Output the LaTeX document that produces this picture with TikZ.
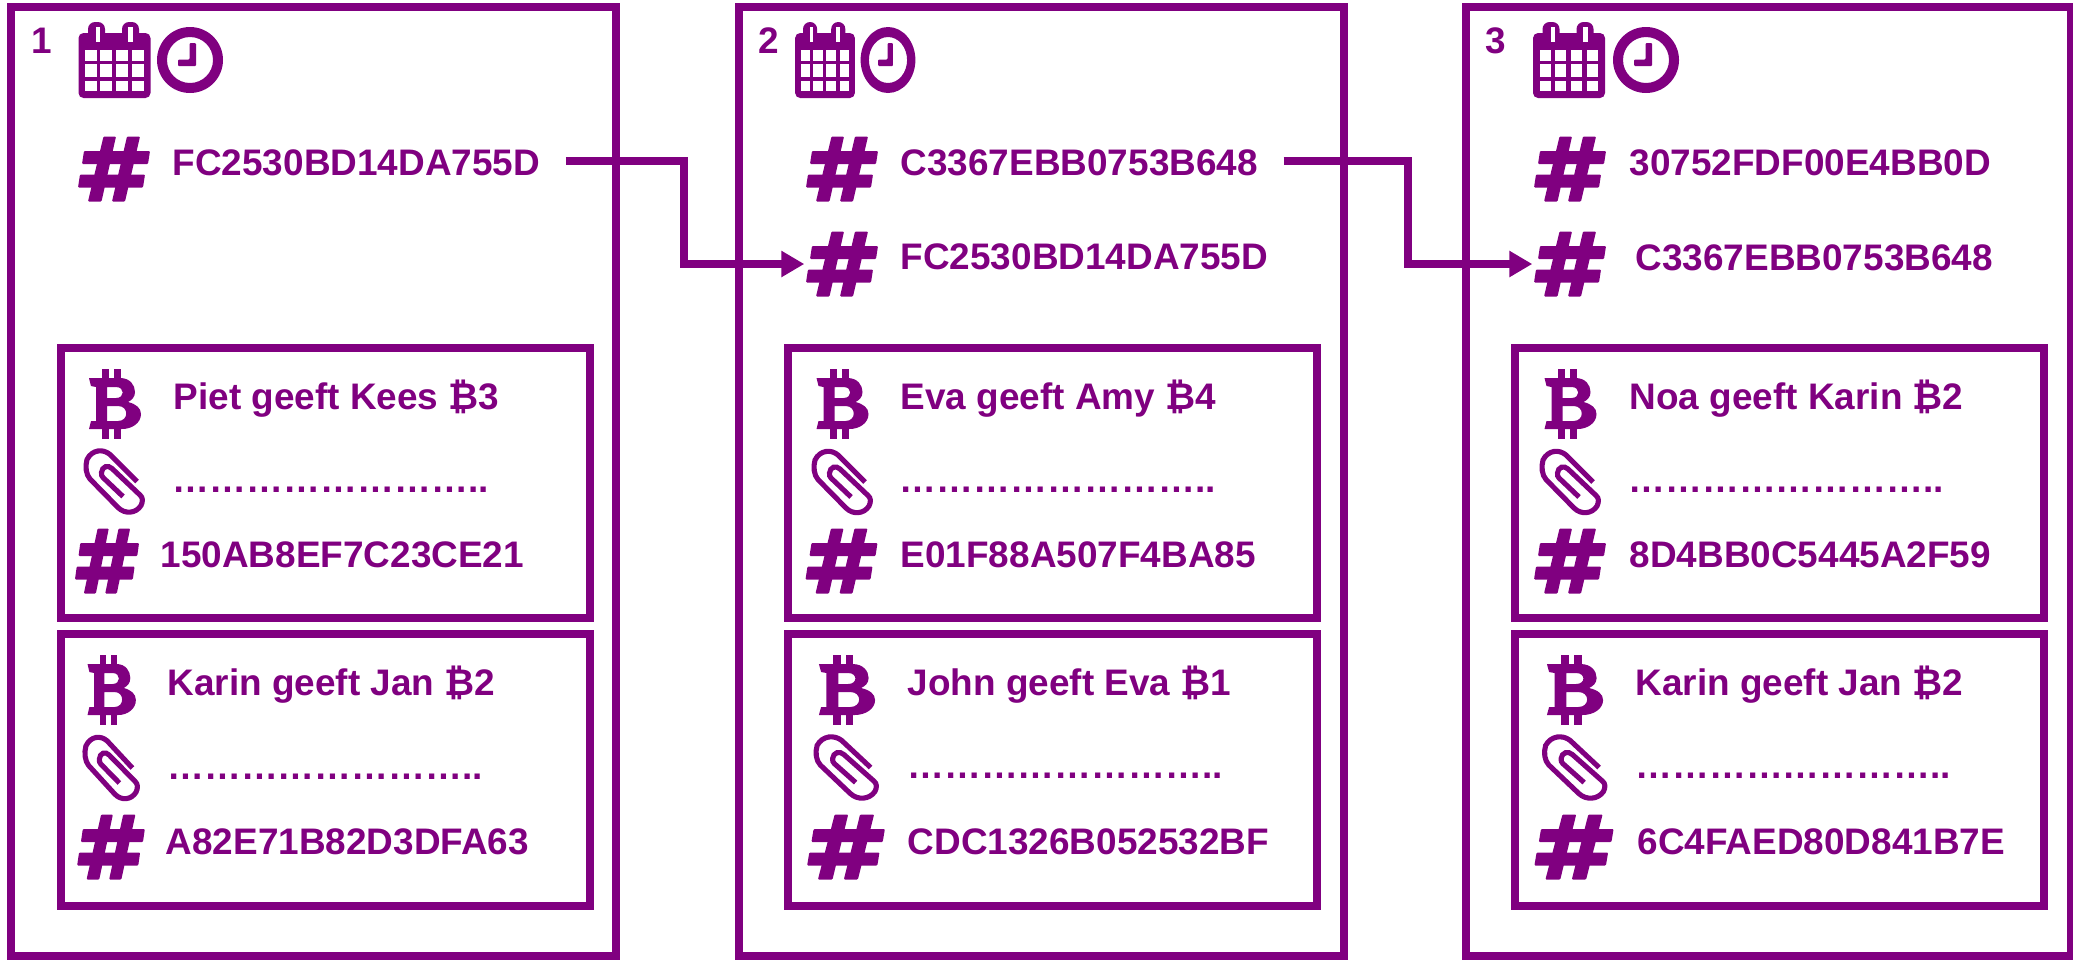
\documentclass[tikz,border=0pt]{standalone}
\usepackage{fontspec}
\setmainfont{Liberation Sans}
\usetikzlibrary{arrows.meta}
\definecolor{blockpurple}{HTML}{800080}
\tikzset{
    blockline/.style={draw=blockpurple, line width=2.35pt},
    chainline/.style={draw=blockpurple, line width=2.1pt, -{Triangle[length=.23cm,width=.25cm]}, shorten >=.01cm},
    txtlabel/.style={anchor=base west, inner sep=0pt, text=blockpurple, font=\fontsize{10.5}{12}\selectfont\bfseries},
    iconspot/.style={inner sep=0pt, minimum width=.72cm, minimum height=.65cm},
    hashicon/.pic={
        \node[iconspot] (-box) at (0,0) {};
        \fill[blockpurple, rounded corners=.01cm] (-30,-18) -- (36,-18) -- (34,-5) -- (-32,-5) -- cycle;
        \fill[blockpurple, rounded corners=.01cm] (-34,5.5) -- (31,5.5) -- (29,18.5) -- (-36,18.5) -- cycle;
        \fill[blockpurple, rounded corners=.01cm] (-10.5,-32.5) -- (2,-32.5) -- (-12.5,32.5) -- (-26,32.5) -- cycle;
        \fill[blockpurple, rounded corners=.01cm] (13,-32.5) -- (26,-32.5) -- (11,32.5) -- (-2,32.5) -- cycle;
    },
    calicon/.pic={
        \fill[blockpurple, rounded corners=.05cm] (-36,-27) rectangle (36,38);
        \fill[blockpurple, rounded corners=.07cm] (-26.5,-38) rectangle (-9.5,-20);
        \fill[blockpurple, rounded corners=.07cm] (7.5,-38) rectangle (24.5,-20);
        \fill[white] (-18.5,-33) rectangle (-14.5,-18);
        \fill[white] (13.5,-33) rectangle (18.5,-18);
        \foreach \cx in {-29.5,-14.5,1.5,17.5}
        {
            \fill[white] (\cx,-10) rectangle ++(11.5,11);
            \fill[white] (\cx,4) rectangle ++(11.5,13);
            \fill[white] (\cx,21) rectangle ++(11.5,10);
        }
    },
    clockicon/.pic={
        \fill[blockpurple, even odd rule] (0,0) circle [radius=33] (0,0) circle [radius=23];
        \fill[blockpurple, rounded corners=.01cm] (-0.5,-17) -- (6,-17) -- (6,6) -- (-12,6) -- (-12,-0.5) -- (-0.5,-0.5) -- cycle;
    },
    btcicon/.pic={
        \fill[blockpurple] (-13,-35) rectangle (-6,-25);
        \fill[blockpurple] (-1,-35) rectangle (6,-25);
        \fill[blockpurple] (-13,24) rectangle (-6,35);
        \fill[blockpurple] (-1,24) rectangle (6,35);
        \fill[blockpurple, even odd rule] (-26,-26) -- (5,-26)
            .. controls (15,-26) and (20,-19) .. (20,-12)
            .. controls (20,-7) and (17,-4) .. (13,-2)
            .. controls (21,0) and (26,4) .. (26,10)
            .. controls (26,19) and (17,25) .. (7,25)
            -- (-26,25) -- (-24,17) -- (-19,17) -- (-19,-17) -- (-24,-18) -- cycle
            (-8,-17) -- (1,-17) .. controls (10,-17) and (10,-6) .. (1,-6) -- (-8,-6) -- cycle
            (-8,2) -- (3,2) .. controls (14,2) and (14,17) .. (3,17) -- (-8,17) -- cycle;
    },
    clipicon/.pic={
        \draw[blockpurple, line width=1.45pt] (23,0) -- (-4,-27)
            .. controls (-11,-33) and (-22,-32) .. (-27,-22)
            .. controls (-29,-15) and (-28,-7) .. (-24,-2.5)
            -- (4,26)
            .. controls (11,33) and (22,32) .. (27,24)
            .. controls (29,20) and (29,16) .. (26,13.5)
            -- (-2,-13)
            .. controls (-6,-17) and (-12,-15) .. (-12.5,-9)
            .. controls (-13,-7) and (-12,-5) .. (-11,-4)
            -- (9,15);
    }
}
\begin{document}
\begin{tikzpicture}[x=0.01cm, y=-0.01cm]
\useasboundingbox (0,0) rectangle (2073,960);

% Outer blocks
\foreach \x in {11,739,1466}
{
    \draw[blockline] (\x,7) rectangle ++(605,949);
}

% Transaction boxes, two in each block
\foreach \x in {61,788,1515}
{
    \draw[blockline] (\x,348) rectangle ++(529,270);
    \draw[blockline] (\x,634) rectangle ++(529,272);
}

% Block numbers
\node[txtlabel] (num1) at (31,53) {1};
\node[txtlabel] (num2) at (758,53) {2};
\node[txtlabel] (num3) at (1485,53) {3};

% Date and time
\pic (cal1) at (114.5,60) {calicon};
\pic (clock1) at (190,60) {clockicon};
\pic[xscale=.83] (cal2) at (825,60) {calicon};
\pic[xscale=.83] (clock2) at (888,60) {clockicon};
\pic (cal3) at (1569,60) {calicon};
\pic (clock3) at (1646,60) {clockicon};

% Header hashes
\pic (top1) at (114,169) {hashicon};
\pic (top2) at (842,169) {hashicon};
\pic (top3) at (1570,169) {hashicon};
\pic (prev2) at (842,264) {hashicon};
\pic (prev3) at (1570,264) {hashicon};
\node[txtlabel] (toptxt1) at (172,175) {FC2530BD14DA755D};
\node[txtlabel] (toptxt2) at (900,175) {C3367EBB0753B648};
\node[txtlabel] (toptxt3) at (1629,175) {30752FDF00E4BB0D};
\node[txtlabel] (prevtxt2) at (900,269) {FC2530BD14DA755D};
\node[txtlabel] (prevtxt3) at (1635,270) {C3367EBB0753B648};

% Transaction icons, some are stretched a bit
\foreach \nm/\x/\y/\sx in {a1/115/404/1,b1/111.7/690/.93,a2/842.5/404/1,b2/847/690/1.08,a3/1570.5/404/1,b3/1575/690/1.08}
{
    \pic[xscale=\sx] (btc\nm) at (\x,\y) {btcicon};
}
\foreach \nm/\x/\y/\sx in {a1/114/481.5/1,b1/111/768/.93,a2/842/482/1,b2/846/767.5/1.07,a3/1570/482/1,b3/1574.5/767.5/1.07}
{
    \pic[xscale=\sx] (clip\nm) at (\x,\y) {clipicon};
}
\foreach \nm/\x/\y/\sx in {a1/107/561/.89,b1/111/847/.94,a2/841.5/561/1,b2/846/847/1.08,a3/1570/561/1,b3/1574/847/1.1}
{
    \pic[xscale=\sx] (hash\nm) at (\x,\y) {hashicon};
}

% Transaction texts
\foreach \nm/\x/\y/\txt in {paya1/173/409/Piet geeft Kees ₿3,
                            payb1/167/695/Karin geeft Jan ₿2,
                            paya2/900/409/Eva geeft Amy ₿4,
                            payb2/907/695/John geeft Eva ₿1,
                            paya3/1629/409/Noa geeft Karin ₿2,
                            payb3/1635/695/Karin geeft Jan ₿2}
{
    \node[txtlabel] (\nm) at (\x,\y) {\txt};
}
\foreach \nm/\x/\y in {dota1/172/492,dotb1/166.5/779,dota2/899/492,dotb2/906.5/778,dota3/1627.5/492,dotb3/1634.5/778}
{
    \node[txtlabel] (\nm) at (\x,\y) {……………………..};
}
\foreach \nm/\x/\y/\txt in {txa1/160/567/150AB8EF7C23CE21,
                            txb1/165/854/A82E71B82D3DFA63,
                            txa2/900/567/E01F88A507F4BA85,
                            txb2/907/854/CDC1326B052532BF,
                            txa3/1629/567/8D4BB0C5445A2F59,
                            txb3/1637/854/6C4FAED80D841B7E}
{
    \node[txtlabel] (\nm) at (\x,\y) {\txt};
}

% Links between blocks
\coordinate (bend1) at (684,161);
\coordinate (bend2) at (1408,161);
\draw[chainline] ([xshift=.25cm]toptxt1.east |- bend1) -- (bend1) |- (prev2-box.west);
\draw[chainline] ([xshift=.25cm]toptxt2.east |- bend2) -- (bend2) |- (prev3-box.west);

\end{tikzpicture}
\end{document}
